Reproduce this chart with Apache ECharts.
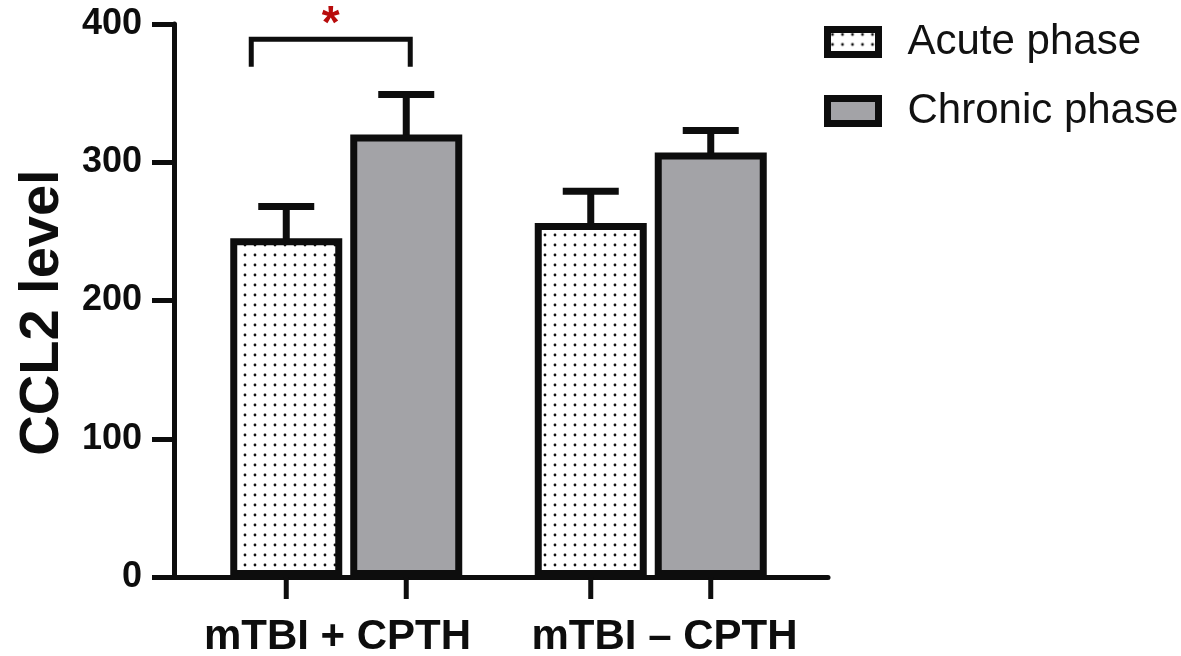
<!DOCTYPE html>
<html>
<head>
<meta charset="utf-8">
<script src="https://cdn.jsdelivr.net/npm/echarts@6/dist/echarts.min.js"></script>
<style>
html,body{margin:0;padding:0;background:#fff;}
#chart{width:1181px;height:656px;}
</style>
</head>
<body>
<div id="chart"></div>
<script>
// ---- data ----
const categories = ['mTBI + CPTH', 'mTBI \u2013 CPTH'];
const seriesNames = ['Acute phase', 'Chronic phase'];
const acuteMean = [245, 256];
const acuteErr = [23, 23];
const chronicMean = [320, 307];
const chronicErr = [29, 16];
const yMin = 0, yMax = 400, yInterval = 100;
const yTitle = 'CCL2 level';
// significance bracket: group index, bracket top value, bracket leg bottom value
const sigGroup = [0];
const sigTop = [389];
const sigBottom = [369];
const sigLabel = ['*'];

// ---- styles ----
const BAR_W = 112;
const GAP_RATIO = 0.0714;
const BAR_OFF = (BAR_W + BAR_W * GAP_RATIO) / 2;
const GRAY = '#a3a3a7';
const INK = '#0d0d0d';
const FONT = 'Liberation Sans, Arial, sans-serif';

function dotPattern() {
  const c = document.createElement('canvas');
  c.width = 10; c.height = 10;
  const g = c.getContext('2d');
  g.fillStyle = '#ffffff';
  g.fillRect(0, 0, 10, 10);
  g.fillStyle = '#111';
  g.beginPath();
  g.arc(5, 5, 1.4, 0, Math.PI * 2);
  g.fill();
  return c;
}
const dots = { image: dotPattern(), repeat: 'repeat' };

function errData(mean, err) {
  return mean.map((m, i) => [i, m, err[i]]);
}

function errRenderer(offset) {
  return function (params, api) {
    const base = api.coord([api.value(0), api.value(1)]);
    const top = api.coord([api.value(0), api.value(1) + api.value(2)]);
    const zero = api.coord([api.value(0), 0]);
    const x = base[0] + offset;
    return {
      type: 'group',
      children: [
        { type: 'line', shape: { x1: x, y1: base[1] + 3, x2: x, y2: top[1] }, style: { stroke: INK, lineWidth: 7 } },
        { type: 'line', shape: { x1: x - 28, y1: top[1], x2: x + 28, y2: top[1] }, style: { stroke: INK, lineWidth: 7 } },
        // x-axis tick under bar centre
        { type: 'line', shape: { x1: x, y1: zero[1], x2: x, y2: zero[1] + 22 }, style: { stroke: INK, lineWidth: 5 } }
      ]
    };
  };
}

const chart = echarts.init(document.getElementById('chart'), null, { renderer: 'canvas' });

const option = {
  backgroundColor: '#ffffff',
  animation: false,
  legend: {
    data: seriesNames,
    orient: 'vertical',
    left: 824,
    top: 21,
    padding: 0,
    icon: 'rect',
    itemWidth: 51,
    itemHeight: 25,
    itemGap: 27,
    itemStyle: { borderColor: INK, borderWidth: 7 },
    textStyle: {
      fontFamily: FONT,
      fontSize: 42,
      lineHeight: 42,
      color: '#111',
      padding: [0, 0, 0, 24]
    }
  },
  grid: [
    { left: 194, right: 378, top: 24, bottom: 79, containLabel: false, outerBoundsMode: 'none' },
    { left: 174, right: 353, top: 24, bottom: 79, containLabel: false, outerBoundsMode: 'none' }
  ],
  xAxis: [
    {
      type: 'category',
      gridIndex: 0,
      data: categories,
      axisLine: { show: false },
      axisTick: { show: false },
      axisLabel: { show: false }
    },
    {
      type: 'category',
      gridIndex: 1,
      data: categories,
      position: 'bottom',
      axisLine: { show: true, onZero: false, lineStyle: { color: INK, width: 5 } },
      axisTick: { show: false },
      axisLabel: {
        interval: 0,
        margin: 39,
        fontFamily: FONT,
        fontWeight: 'bold',
        fontSize: 42,
        color: INK
      },
      splitLine: { show: false }
    }
  ],
  yAxis: [
    {
      type: 'value',
      gridIndex: 0,
      min: yMin, max: yMax, interval: yInterval,
      offset: 20,
      name: yTitle,
      nameLocation: 'middle',
      nameRotate: 90,
      nameGap: 103,
      nameTextStyle: {
        fontFamily: FONT,
        fontWeight: 'bold',
        fontSize: 56,
        color: INK,
        padding: [0, 24, 0, 0]
      },
      axisLine: { show: true, lineStyle: { color: INK, width: 5 } },
      axisTick: { show: true, length: 22, lineStyle: { color: INK, width: 5 } },
      axisLabel: {
        margin: 32,
        fontFamily: FONT,
        fontWeight: 'bold',
        fontSize: 36,
        color: INK
      },
      splitLine: { show: false }
    },
    {
      type: 'value',
      gridIndex: 1,
      min: 0, max: 1,
      show: false
    }
  ],
  series: [
    {
      name: seriesNames[0],
      type: 'bar',
      xAxisIndex: 0, yAxisIndex: 0,
      data: acuteMean,
      barWidth: BAR_W,
      barGap: (GAP_RATIO * 100) + '%',
      itemStyle: { color: dots, borderColor: INK, borderWidth: 7 },
      z: 3
    },
    {
      name: seriesNames[1],
      type: 'bar',
      xAxisIndex: 0, yAxisIndex: 0,
      data: chronicMean,
      barWidth: BAR_W,
      barGap: (GAP_RATIO * 100) + '%',
      itemStyle: { color: GRAY, borderColor: INK, borderWidth: 7 },
      z: 3
    },
    {
      type: 'custom',
      xAxisIndex: 0, yAxisIndex: 0,
      data: errData(acuteMean, acuteErr),
      renderItem: errRenderer(-BAR_OFF),
      z: 2, silent: true
    },
    {
      type: 'custom',
      xAxisIndex: 0, yAxisIndex: 0,
      data: errData(chronicMean, chronicErr),
      renderItem: errRenderer(BAR_OFF),
      z: 2, silent: true
    },
    {
      type: 'custom',
      xAxisIndex: 0, yAxisIndex: 0,
      data: sigGroup.map((g, i) => [g, sigTop[i], sigBottom[i]]),
      renderItem: function (params, api) {
        const t = api.coord([api.value(0), api.value(1)]);
        const b = api.coord([api.value(0), api.value(2)]);
        const xl = t[0] - BAR_OFF - 35;
        const xr = t[0] + BAR_OFF + 4;
        return {
          type: 'group',
          children: [
            { type: 'polyline', shape: { points: [[xl, b[1]], [xl, t[1]], [xr, t[1]], [xr, b[1]]] },
              style: { stroke: INK, lineWidth: 5, fill: null } },
            { type: 'text', x: (xl + xr) / 2, y: t[1] - 37,
              style: { text: sigLabel[params.dataIndex], fill: '#b80c0c', fontSize: 46, fontWeight: 'bold',
                       fontFamily: FONT, align: 'center', verticalAlign: 'top' } }
          ]
        };
      },
      z: 4, silent: true
    }
  ]
};
chart.setOption(option);
</script>
</body>
</html>
